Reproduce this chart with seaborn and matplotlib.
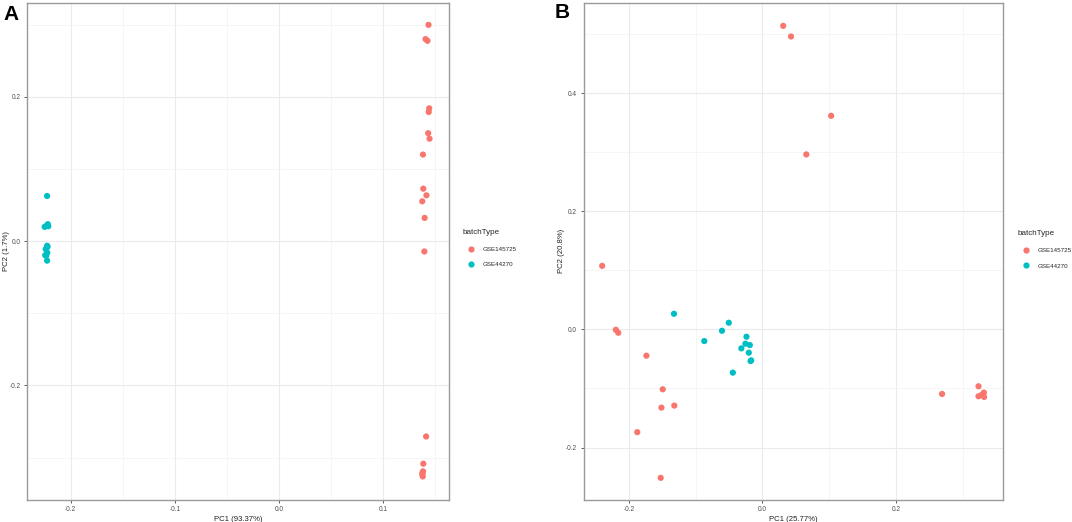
import matplotlib
matplotlib.use("Agg")
import matplotlib.pyplot as plt
import seaborn as sns
import pandas as pd
import numpy as np
from matplotlib.ticker import MultipleLocator

# ---------------- data ----------------
groups = ["GSE145725", "GSE44270"]
palette = {"GSE145725": "#F8766D", "GSE44270": "#00BFC4"}

# Panel A (PC1 93.37%, PC2 1.7%)
a_red_pc1 = [0.1438, 0.1410, 0.1428, 0.1445, 0.1440, 0.1435, 0.1448, 0.1385, 0.1388,
             0.1418, 0.1378, 0.1401, 0.1398, 0.1415, 0.1388, 0.1385, 0.1380, 0.1378, 0.1383]
a_red_pc2 = [0.2997, 0.2800, 0.2776, 0.1840, 0.1790, 0.1496, 0.1420, 0.1200, 0.0727,
             0.0635, 0.0552, 0.0322, -0.0143, -0.2707, -0.3084, -0.3190, -0.3210, -0.3230, -0.3260]
a_cyan_pc1 = [-0.2227, -0.2250, -0.2220, -0.2215, -0.2230, -0.2227, -0.2222, -0.2240,
              -0.2225, -0.2235, -0.2245, -0.2227]
a_cyan_pc2 = [0.0626, 0.0198, 0.0235, 0.0207, 0.0215, -0.0064, -0.0078, -0.0110,
              -0.0160, -0.0200, -0.0195, -0.0270]

# Panel B (PC1 25.77%, PC2 20.8%)
b_red_pc1 = [0.0311, 0.0428, 0.1029, 0.0657, -0.2400, -0.2196, -0.2160, -0.1738, -0.1493,
             -0.1513, -0.1320, -0.1875, -0.1524, 0.2690, 0.3236, 0.3236, 0.3280, 0.3317, 0.3320]
b_red_pc2 = [0.5140, 0.4960, 0.3617, 0.2963, 0.1076, -0.0006, -0.0056, -0.0445, -0.1014,
             -0.1324, -0.1290, -0.1740, -0.2513, -0.1093, -0.0963, -0.1132, -0.1110, -0.1070, -0.1144]
b_cyan_pc1 = [-0.1325, -0.0504, -0.0606, -0.0871, -0.0239, -0.0255, -0.0189, -0.0316,
              -0.0204, -0.0168, -0.0178, -0.0443]
b_cyan_pc2 = [0.0265, 0.0113, -0.0023, -0.0197, -0.0124, -0.0242, -0.0265, -0.0321,
              -0.0394, -0.0524, -0.0535, -0.0732]

df_a = pd.DataFrame({
    "PC1": a_red_pc1 + a_cyan_pc1,
    "PC2": a_red_pc2 + a_cyan_pc2,
    "batchType": [groups[0]] * len(a_red_pc1) + [groups[1]] * len(a_cyan_pc1),
})
df_b = pd.DataFrame({
    "PC1": b_red_pc1 + b_cyan_pc1,
    "PC2": b_red_pc2 + b_cyan_pc2,
    "batchType": [groups[0]] * len(b_red_pc1) + [groups[1]] * len(b_cyan_pc1),
})

# ---------------- style ----------------
sns.set_theme(style="white")
plt.rcParams["font.family"] = ["Liberation Sans", "DejaVu Sans"]

W, H = 1072, 522
fig = plt.figure(figsize=(W / 100, H / 100), dpi=100)


def fx(px):
    return px / W


def fy(py):
    return 1 - py / H


def panel(left_px, right_px, df, xlim, ylim, xmaj, ymaj, xlabel, ylabel, ylab_px,
          letter, letter_xy, leg_xy):
    top_px, bot_px = 3, 499.5
    ax = fig.add_axes([fx(left_px), fy(bot_px), fx(right_px) - fx(left_px), fy(top_px) - fy(bot_px)])
    ax.set_facecolor("white")
    ax.set_xlim(*xlim)
    ax.set_ylim(*ylim)
    ax.xaxis.set_major_locator(MultipleLocator(xmaj))
    ax.yaxis.set_major_locator(MultipleLocator(ymaj))
    ax.xaxis.set_minor_locator(MultipleLocator(xmaj / 2))
    ax.yaxis.set_minor_locator(MultipleLocator(ymaj / 2))
    ax.grid(which="major", color="#EBEBEB", linewidth=0.8)
    ax.grid(which="minor", color="#F2F2F2", linewidth=0.5)
    ax.set_axisbelow(True)
    sns.scatterplot(data=df, x="PC1", y="PC2", hue="batchType", hue_order=groups,
                    palette=palette, s=20, linewidth=0, edgecolor="none", ax=ax, zorder=3)
    for sp in ax.spines.values():
        sp.set_color("#9A9A9A")
        sp.set_linewidth(1.0)
    ax.tick_params(which="major", direction="out", length=2.5, width=0.6, color="#444444",
                   labelsize=4.7, labelcolor="#4D4D4D", pad=2, bottom=True, left=True)
    ax.tick_params(which="minor", length=0)
    fmt = lambda v, p: f"{v:.1f}".replace("-0.0", "0.0")
    ax.xaxis.set_major_formatter(matplotlib.ticker.FuncFormatter(fmt))
    ax.yaxis.set_major_formatter(matplotlib.ticker.FuncFormatter(fmt))
    ax.set_xlabel(xlabel, fontsize=5.6, color="#222222", labelpad=2)
    ax.set_ylabel(ylabel, fontsize=5.6, color="#222222")
    ax.yaxis.set_label_coords((ylab_px - left_px) / (right_px - left_px), 0.5)

    handles, labels = ax.get_legend_handles_labels()
    ax.legend(handles, labels, title="batchType", loc="upper left",
              bbox_to_anchor=(fx(leg_xy[0]), fy(leg_xy[1])), bbox_transform=fig.transFigure,
              frameon=False, fontsize=4.5, title_fontsize=5.8, borderpad=0,
              handlelength=2.8, handletextpad=0.5, labelspacing=1.65, markerscale=1.0,
              alignment="left")
    fig.text(fx(letter_xy[0]), fy(letter_xy[1]), letter, fontsize=15, fontweight="bold",
             ha="left", va="top", color="black")
    return ax


panel(27, 449, df_a, (-0.242, 0.1635), (-0.358, 0.330), 0.1, 0.2,
      "PC1 (93.37%)", "PC2 (1.7%)", 10, "A", (3, 5), (459, 226))

panel(583.5, 1002.6, df_b, (-0.268, 0.3597), (-0.288, 0.5527), 0.2, 0.2,
      "PC1 (25.77%)", "PC2 (20.8%)", 565, "B", (555, 3), (1014, 227))

fig.savefig("out.png", dpi=100)
